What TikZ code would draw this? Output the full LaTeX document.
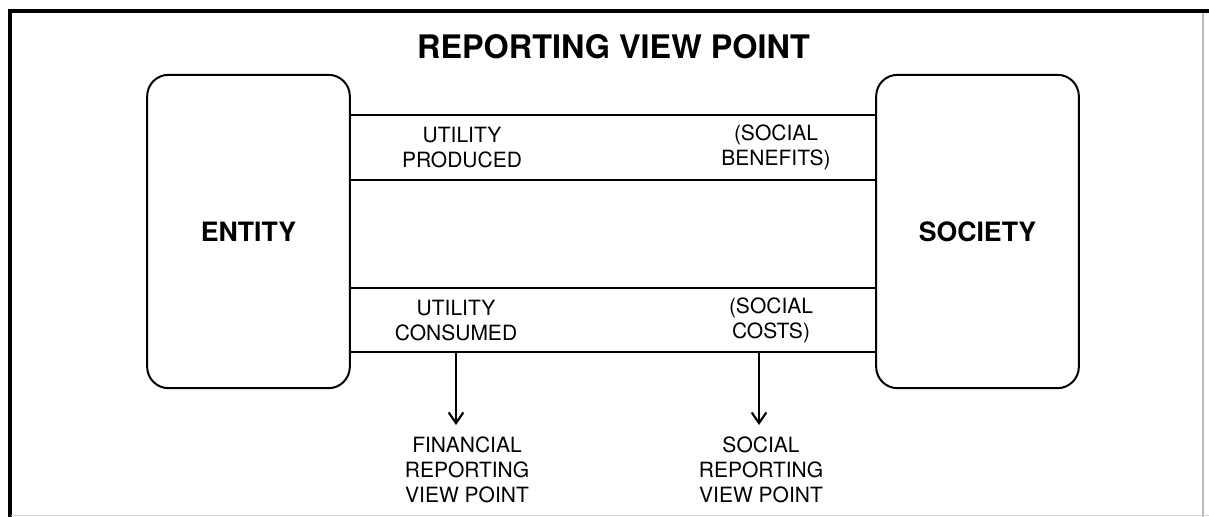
\documentclass[tikz,border=0pt]{standalone}
\usepackage{fontspec}
\setmainfont{TeX Gyre Heros}
\usetikzlibrary{arrows.meta,positioning}

\begin{document}
\begin{tikzpicture}[x=0.75pt,y=-0.75pt,
	party/.style={draw,line width=1.5pt,rounded corners=16pt,minimum width=152pt,
		minimum height=235pt,font=\fontsize{20}{24}\selectfont\bfseries},
	band/.style={line width=1.5pt},
	lbl/.style={align=center,inner sep=0pt,font=\fontsize{15.75}{19}\selectfont},
	view/.style={align=center,inner xsep=0pt,inner ysep=9pt,anchor=north,
		font=\fontsize{15.75}{18.5}\selectfont},
	pointer/.style={line width=1.5pt,-{Straight Barb[length=8pt,width=11pt,line width=1.6pt]}}]
	\useasboundingbox (0,0) rectangle (1209,517);
	% frame
	\draw[line width=3pt] (8,11.5) -- (1209,11.5);
	\draw[line width=3pt] (10,10) -- (10,517);
	\draw[gray!55,line width=0.9pt] (1203,13) -- (1203,517);
	\draw[gray!35,line width=0.9pt] (11,515.5) -- (1209,515.5);

	\node [font=\fontsize{24.3}{29}\selectfont\bfseries] (title) at (613.5,46.5) {REPORTING VIEW POINT};

	\node [party] (entity) at (248.5,231.5) {ENTITY};
	\node [party] (society) at (977.5,231.5) {SOCIETY};

	% the two bands between entity and society
	\coordinate (y1) at (0,115);
	\coordinate (y2) at (0,180);
	\coordinate (y3) at (0,288);
	\coordinate (y4) at (0,352);
	\foreach \y in {y1,y2,y3,y4}
		\draw [band] (entity.east |- \y) -- (society.west |- \y);

	\node [lbl] (prod) at (462,147.5) {UTILITY\\PRODUCED};
	\node [lbl] (benef) at (776,147.5) {(SOCIAL\\BENEFITS)};
	\node [lbl] (cons) at (456,320.5) {UTILITY\\CONSUMED};
	\node [lbl] (costs) at (771,320.5) {(SOCIAL\\COSTS)};

	\node [view] (finrep) at (467,425) {FINANCIAL\\REPORTING\\VIEW POINT};
	\node [view] (socrep) at (761,425) {SOCIAL\\REPORTING\\VIEW POINT};
	\coordinate (f1) at (456,352);
	\coordinate (s1) at (759,352);
	\draw [pointer] (f1) -- (f1 |- finrep.north);
	\draw [pointer] (s1) -- (s1 |- socrep.north);
\end{tikzpicture}
\end{document}
